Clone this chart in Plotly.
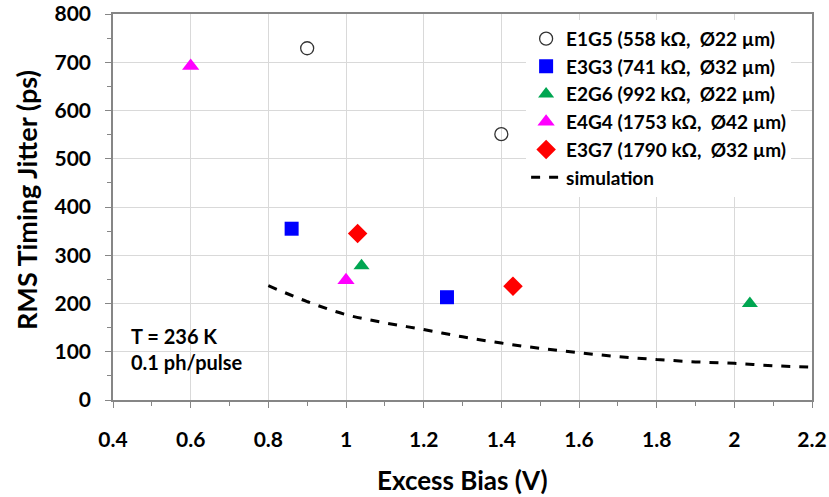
import plotly.graph_objects as go

# Data
e1g5_x = [0.9, 1.4]
e1g5_y = [729, 551]
e3g3_x = [0.86, 1.26]
e3g3_y = [355, 213]
e2g6_x = [1.04, 2.04]
e2g6_y = [278, 200]
e4g4_x = [0.6, 1.0]
e4g4_y = [692, 248]
e3g7_x = [1.03, 1.43]
e3g7_y = [345, 236]
sim_x = [0.8, 0.9, 1.0, 1.1, 1.2, 1.3, 1.4, 1.5, 1.6, 1.7, 1.8, 1.9, 2.0, 2.1, 2.2]
sim_y = [237, 204, 177, 160, 146, 131, 118, 107, 98, 90, 84, 79, 76, 71, 68]

x_ticks = [0.4, 0.6, 0.8, 1.0, 1.2, 1.4, 1.6, 1.8, 2.0, 2.2]
x_tick_text = ["0.4", "0.6", "0.8", "1", "1.2", "1.4", "1.6", "1.8", "2", "2.2"]
y_ticks = [0, 100, 200, 300, 400, 500, 600, 700, 800]

FONT = "Lato"

fig = go.Figure()
fig.add_trace(go.Scatter(x=e1g5_x, y=e1g5_y, mode="markers", name="<b>E1G5 (558 kΩ,  Ø22 µm)</b>",
                         marker=dict(symbol="circle-open", size=13, color="#333333", line=dict(width=1.3))))
fig.add_trace(go.Scatter(x=e3g3_x, y=e3g3_y, mode="markers", name="<b>E3G3 (741 kΩ,  Ø32 µm)</b>",
                         marker=dict(symbol="square", size=14, color="#0000FF")))
fig.add_trace(go.Scatter(x=e2g6_x, y=e2g6_y, mode="markers", name="<b>E2G6 (992 kΩ,  Ø22 µm)</b>",
                         marker=dict(symbol="triangle-up", size=14, color="#00A651")))
fig.add_trace(go.Scatter(x=e4g4_x, y=e4g4_y, mode="markers", name="<b>E4G4 (1753 kΩ,  Ø42 µm)</b>",
                         marker=dict(symbol="triangle-up", size=15, color="#FF00FF")))
fig.add_trace(go.Scatter(x=e3g7_x, y=e3g7_y, mode="markers", name="<b>E3G7 (1790 kΩ,  Ø32 µm)</b>",
                         marker=dict(symbol="diamond", size=15, color="#FF0000")))
fig.add_trace(go.Scatter(x=sim_x, y=sim_y, mode="lines", name="<b>simulation</b>",
                         line=dict(color="black", width=3, dash="dash", shape="spline")))

fig.add_annotation(x=0.44, y=105, xref="x", yref="y", text="<b>T = 236 K<br>0.1 ph/pulse</b>",
                   showarrow=False, xanchor="left", yanchor="middle", align="left",
                   font=dict(family=FONT, size=20, color="black"))

# axis titles
fig.add_annotation(x=(462 - 113) / 699, y=-(480 - 400) / 386, xref="paper", yref="paper",
                   text="<b>Excess Bias (V)</b>", showarrow=False, xanchor="center", yanchor="middle",
                   font=dict(family=FONT, size=26, color="black"))
fig.add_annotation(x=-(113 - 26) / 699, y=(400 - 200) / 386, xref="paper", yref="paper",
                   text="<b>RMS Timing Jitter (ps)</b>", showarrow=False, xanchor="center", yanchor="middle",
                   textangle=-90, font=dict(family=FONT, size=27, color="black"))

fig.update_layout(
    width=829, height=497,
    margin=dict(l=113, r=17, t=14, b=97),
    paper_bgcolor="white", plot_bgcolor="white",
    font=dict(family=FONT, color="black"),
    showlegend=True,
    legend=dict(x=0.591, y=0.985, xanchor="left", yanchor="top",
                bgcolor="white", borderwidth=0,
                font=dict(family=FONT, size=19, color="black"),
                itemwidth=30, tracegroupgap=0),
    xaxis=dict(range=[0.4, 2.2], tickvals=x_ticks, ticktext=["<b>%s</b>" % t for t in x_tick_text],
               automargin=False,
               showgrid=True, gridcolor="#D9D9D9", gridwidth=1,
               showline=True, linecolor="#868686", linewidth=1.5, mirror=True,
               ticks="outside", ticklen=6, tickcolor="#868686", tickwidth=1,
               ticklabelstandoff=14,
               minor=dict(dtick=0.1, ticks="outside", ticklen=4, tickcolor="#868686", showgrid=False),
               tickfont=dict(family=FONT, size=21, color="black"),
               zeroline=False),
    yaxis=dict(range=[0, 800], tickvals=y_ticks, ticktext=["<b>%d</b>" % t for t in y_ticks],
               automargin=False,
               showgrid=True, gridcolor="#D9D9D9", gridwidth=1,
               showline=True, linecolor="#868686", linewidth=1.5, mirror=True,
               ticks="outside", ticklen=6, tickcolor="#868686", tickwidth=1,
               ticklabelstandoff=10,
               minor=dict(dtick=50, ticks="outside", ticklen=4, tickcolor="#868686", showgrid=False),
               tickfont=dict(family=FONT, size=21, color="black"),
               zeroline=False),
)

fig.write_html("out.html")
